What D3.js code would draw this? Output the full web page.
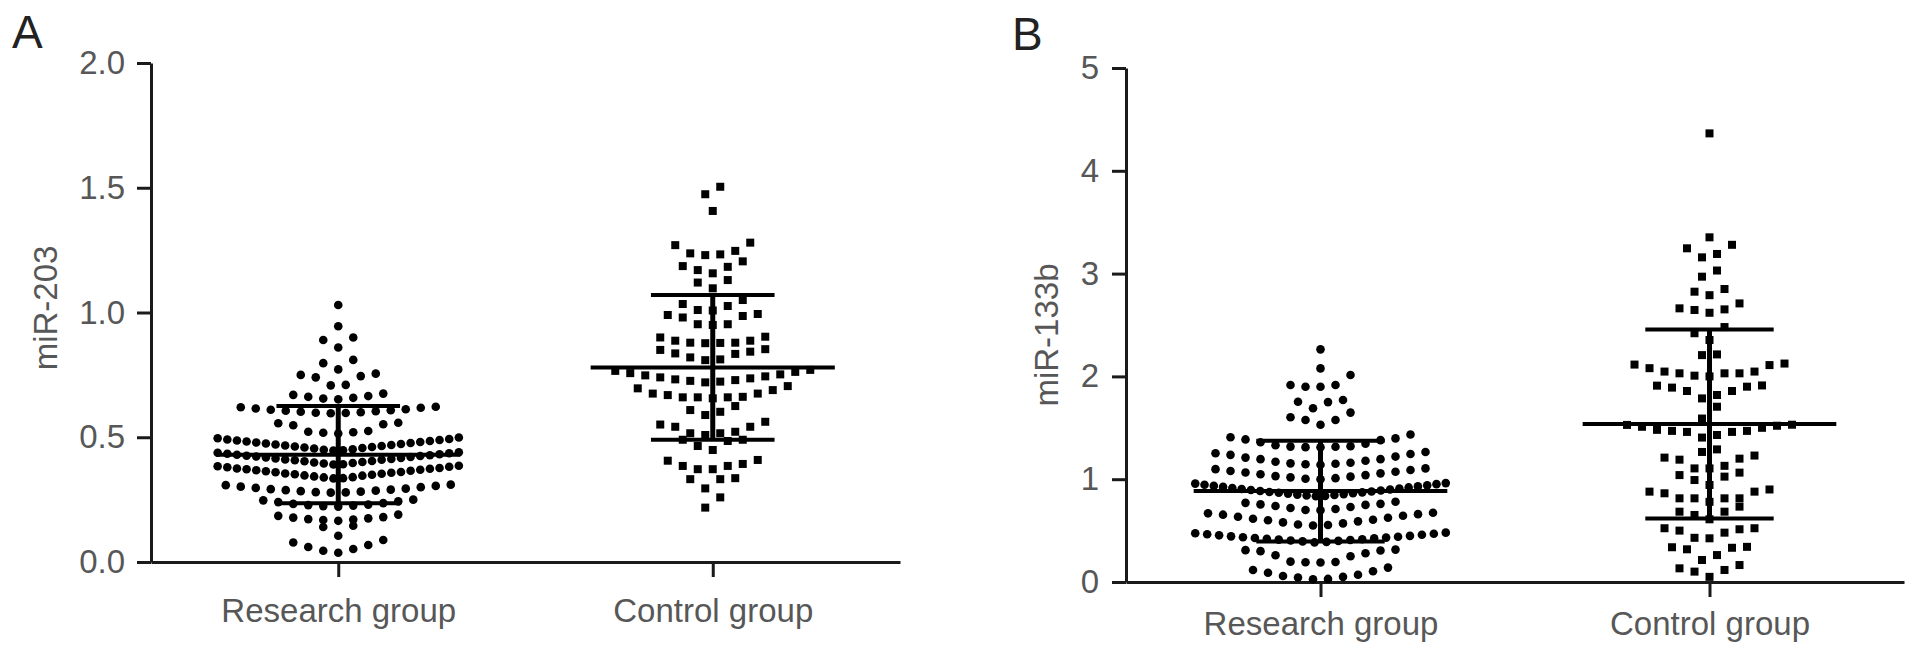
<!DOCTYPE html>
<html>
<head>
<meta charset="utf-8">
<script src="https://cdn.jsdelivr.net/npm/d3@7"></script>
<style>
  html, body { margin: 0; padding: 0; background: #ffffff; }
  svg { display: block; }
</style>
</head>
<body>
<svg id="chart" width="1913" height="654"></svg>
<script>
// ---------------- data ----------------
const groups = ["Research group", "Control group"];

const miR203Research = [
  0.037, 0.045, 0.052, 0.06, 0.068, 0.078, 0.088,
  0.105, 0.14, 0.145,
  0.165, 0.168, 0.17, 0.172, 0.175, 0.178, 0.18, 0.185, 0.19,
  0.222, 0.224, 0.226, 0.228, 0.23, 0.233, 0.236, 0.24, 0.243, 0.247, 0.25,
  0.278, 0.279, 0.28, 0.282, 0.284, 0.286, 0.288, 0.29, 0.292, 0.294, 0.297, 0.3, 0.302, 0.305, 0.308, 0.31,
  0.335, 0.336, 0.339, 0.34, 0.343, 0.346, 0.347, 0.35, 0.352, 0.354, 0.355, 0.358, 0.36, 0.361, 0.364, 0.366, 0.368, 0.37, 0.372, 0.374, 0.375, 0.377, 0.38, 0.382, 0.384, 0.386,
  0.391, 0.392, 0.395, 0.397, 0.399, 0.401, 0.404, 0.405, 0.408, 0.41, 0.411, 0.413, 0.415, 0.417, 0.419, 0.421, 0.423, 0.425, 0.426, 0.428, 0.43, 0.432, 0.434, 0.436, 0.438, 0.44,
  0.447, 0.448, 0.45, 0.452, 0.455, 0.457, 0.459, 0.461, 0.463, 0.465, 0.467, 0.469, 0.471, 0.473, 0.475, 0.477, 0.479, 0.481, 0.483, 0.485, 0.487, 0.489, 0.491, 0.493, 0.496, 0.499,
  0.515, 0.518, 0.52, 0.522, 0.525, 0.548, 0.552, 0.556, 0.558,
  0.596, 0.597, 0.598, 0.6, 0.602, 0.604, 0.606, 0.608, 0.61, 0.612, 0.615, 0.618, 0.62, 0.622,
  0.652, 0.655, 0.658, 0.662, 0.665, 0.67, 0.675,
  0.708, 0.71, 0.74, 0.745, 0.75, 0.755,
  0.772, 0.797, 0.81,
  0.86, 0.89, 0.90,
  0.945,
  1.03
];

const miR203Control = [
  0.218, 0.259,
  0.295, 0.332, 0.332, 0.336,
  0.372, 0.372, 0.385, 0.385, 0.393, 0.406, 0.409,
  0.449, 0.465, 0.485, 0.49, 0.49,
  0.509, 0.516, 0.516, 0.522, 0.542, 0.542, 0.551, 0.562,
  0.589, 0.602, 0.609, 0.625,
  0.656, 0.66, 0.66, 0.66, 0.662, 0.669, 0.675, 0.675, 0.689, 0.696, 0.705,
  0.72, 0.723, 0.726, 0.729, 0.732, 0.736, 0.74, 0.744, 0.748, 0.752, 0.757, 0.762, 0.766, 0.77,
  0.809, 0.812, 0.82, 0.834, 0.836, 0.843, 0.85, 0.853,
  0.877, 0.878, 0.879, 0.879, 0.887, 0.887, 0.90, 0.903,
  0.95, 0.953, 0.953, 0.98, 0.986, 0.99, 0.994,
  1.008, 1.01, 1.026, 1.034, 1.05,
  1.097, 1.12, 1.13,
  1.157, 1.17, 1.183, 1.186, 1.205,
  1.23, 1.233, 1.237, 1.247, 1.27, 1.28,
  1.407,
  1.474, 1.504
];

const miR133bResearch = [
  0.026, 0.03, 0.044, 0.05, 0.058, 0.07, 0.09, 0.105, 0.117, 0.14,
  0.19, 0.192, 0.195, 0.198, 0.25, 0.26, 0.28, 0.30, 0.306, 0.31, 0.315,
  0.385, 0.39, 0.395, 0.40, 0.404, 0.408, 0.412, 0.416, 0.42, 0.424, 0.428, 0.432, 0.436, 0.44, 0.444, 0.449, 0.454, 0.459, 0.464, 0.469, 0.474, 0.48,
  0.55, 0.555, 0.56, 0.57, 0.58, 0.59, 0.6, 0.605, 0.615, 0.625, 0.635, 0.645, 0.655, 0.66, 0.668, 0.674,
  0.698, 0.70, 0.71, 0.72, 0.73, 0.74, 0.75, 0.755, 0.76, 0.77, 0.78,
  0.835, 0.838, 0.842, 0.846, 0.85, 0.855, 0.86, 0.864, 0.868, 0.872, 0.876, 0.88, 0.885, 0.89, 0.895, 0.9, 0.905, 0.91, 0.915, 0.92, 0.925, 0.93, 0.935, 0.94, 0.946, 0.952, 0.957, 0.962,
  1.0, 1.004, 1.01, 1.018, 1.025, 1.03, 1.04, 1.048, 1.057, 1.065, 1.072, 1.08, 1.09, 1.098, 1.105,
  1.14, 1.145, 1.15, 1.154, 1.16, 1.17, 1.18, 1.195, 1.195, 1.21, 1.22, 1.237, 1.245, 1.253, 1.265,
  1.31, 1.312, 1.315, 1.317, 1.32, 1.33, 1.345, 1.36, 1.38, 1.387, 1.397, 1.408, 1.435,
  1.53, 1.576, 1.576, 1.602, 1.648,
  1.69, 1.75, 1.754, 1.77,
  1.9, 1.9, 1.917, 1.917, 2.014,
  2.078,
  2.263
];

const miR133bControl = [
  0.05, 0.101, 0.117, 0.133, 0.165,
  0.214, 0.262, 0.318, 0.333, 0.338, 0.342,
  0.425, 0.43, 0.48, 0.5, 0.513, 0.523, 0.523,
  0.61, 0.652, 0.684, 0.684, 0.733,
  0.78, 0.814, 0.814, 0.814, 0.814, 0.863, 0.879, 0.879, 0.9,
  0.944, 0.992, 1.025, 1.04, 1.064,
  1.105, 1.105, 1.13, 1.19, 1.2, 1.21, 1.23,
  1.265, 1.29,
  1.405, 1.43, 1.46, 1.46, 1.47, 1.47, 1.48, 1.5, 1.51, 1.52, 1.528, 1.53,
  1.59, 1.705,
  1.786, 1.819, 1.858, 1.858, 1.891, 1.9, 1.91, 1.912,
  2.0, 2.007, 2.03, 2.03, 2.03, 2.047, 2.047, 2.08, 2.11, 2.115, 2.125,
  2.207, 2.214,
  2.354, 2.42, 2.48,
  2.619, 2.646, 2.652, 2.662, 2.71,
  2.79, 2.824, 2.85,
  2.97, 3.03,
  3.158, 3.191, 3.246, 3.28,
  3.353,
  4.364
];

// mean and SD bars as drawn
const miR203Mean = [0.43, 0.78];
const miR203SD = [0.195, 0.29];
const miR133bMean = [0.885, 1.537];
const miR133bSD = [0.49, 0.92];

const miR203Ticks = [0, 0.5, 1.0, 1.5, 2.0];
const miR133bTicks = [0, 1, 2, 3, 4, 5];

// ---------------- layout ----------------
const panels = [
  {
    letter: "A", letterX: 12, letterY: 48,
    title: "miR-203", titleX: 57, titleY: 308,
    left: 151, right: 900, top: 63, bottom: 562,
    ticks: miR203Ticks, fmt: d3.format(".1f"),
    data: [miR203Research, miR203Control],
    mean: miR203Mean, sd: miR203SD,
    yPad: 12, xPad: 22
  },
  {
    letter: "B", letterX: 1012, letterY: 50,
    title: "miR-133b", titleX: 1058, titleY: 335,
    left: 1126, right: 1904, top: 68, bottom: 582,
    ticks: miR133bTicks, fmt: d3.format("d"),
    data: [miR133bResearch, miR133bControl],
    mean: miR133bMean, sd: miR133bSD,
    yPad: 13, xPad: 15
  }
];

const svg = d3.select("#chart");
const FONT = "'Liberation Sans', Arial, Helvetica, sans-serif";
const TEXT = "#575757";
const INK = "#1a1a1a";

// row-based scatter layout (like GraphPad column scatter)
function swarm(values, y, binPx, spacing, maxHalf) {
  const sorted = values.slice().sort((a, b) => a - b);
  const rows = [];
  let cur = null;
  for (const v of sorted) {
    if (!cur || (y(cur.start) - y(v)) >= binPx) {
      cur = { start: v, items: [] };
      rows.push(cur);
    }
    cur.items.push(v);
  }
  const out = [];
  for (const r of rows) {
    const n = r.items.length;
    const s = n > 1 ? Math.min(spacing, 2 * maxHalf / (n - 1)) : 0;
    r.items.forEach((v, i) => {
      let off;
      if (n % 2 === 1) {
        const k = Math.ceil(i / 2);
        off = i === 0 ? 0 : (i % 2 === 1 ? -k : k) * s;
      } else {
        const k = Math.floor(i / 2);
        off = (i % 2 === 0 ? -1 : 1) * (k + 0.5) * s;
      }
      out.push({ v, dx: off });
    });
  }
  return out;
}

panels.forEach(p => {
  const g = svg.append("g");
  const y = d3.scaleLinear()
    .domain([0, p.ticks[p.ticks.length - 1]])
    .range([p.bottom, p.top]);
  const x = d3.scalePoint()
    .domain(groups)
    .range([p.left, p.right])
    .padding(0.5);
  const step = x.step();

  // panel letter
  g.append("text")
    .attr("x", p.letterX).attr("y", p.letterY)
    .attr("font-family", FONT).attr("font-size", 46)
    .attr("fill", "#222").text(p.letter);

  // y axis title
  g.append("text")
    .attr("transform", `translate(${p.titleX},${p.titleY}) rotate(-90)`)
    .attr("text-anchor", "middle")
    .attr("font-family", FONT).attr("font-size", 33)
    .attr("fill", TEXT).text(p.title);

  // y axis
  const yAxis = g.append("g")
    .attr("transform", `translate(${p.left},0)`)
    .call(d3.axisLeft(y).tickValues(p.ticks).tickFormat(p.fmt)
      .tickSize(14).tickSizeOuter(0).tickPadding(p.yPad));
  // x axis
  const xAxis = g.append("g")
    .attr("transform", `translate(0,${p.bottom})`)
    .call(d3.axisBottom(x).tickSize(15).tickSizeOuter(0).tickPadding(p.xPad));

  [yAxis, xAxis].forEach(a => {
    a.select(".domain").attr("stroke", INK).attr("stroke-width", 3);
    a.selectAll(".tick line").attr("stroke", INK).attr("stroke-width", 3);
    a.selectAll(".tick text")
      .attr("font-family", FONT).attr("font-size", 33).attr("fill", TEXT);
  });

  // points
  const binPx = 13.7, spacing = 15, maxHalf = step * 0.322;
  p.data.forEach((vals, gi) => {
    const cx = x(groups[gi]);
    const pts = swarm(vals, y, binPx, spacing, maxHalf);
    if (gi === 0) {
      g.append("g").selectAll("circle").data(pts).join("circle")
        .attr("cx", d => cx + d.dx)
        .attr("cy", d => y(d.v))
        .attr("r", 4.3)
        .attr("fill", "#000");
    } else {
      const sz = 8;
      g.append("g").selectAll("rect").data(pts).join("rect")
        .attr("x", d => cx + d.dx - sz / 2)
        .attr("y", d => y(d.v) - sz / 2)
        .attr("width", sz).attr("height", sz)
        .attr("fill", "#000");
    }
  });

  // mean +/- SD bars
  groups.forEach((grp, gi) => {
    const cx = x(grp);
    const m = p.mean[gi], s = p.sd[gi];
    const halfMean = step * 0.326, halfCap = step * 0.165;
    const bars = g.append("g").attr("stroke", "#000");
    bars.append("line")
      .attr("stroke-width", 5)
      .attr("x1", cx).attr("x2", cx)
      .attr("y1", y(m - s)).attr("y2", y(m + s));
    bars.append("line")
      .attr("stroke-width", 4)
      .attr("x1", cx - halfMean).attr("x2", cx + halfMean)
      .attr("y1", y(m)).attr("y2", y(m));
    [m - s, m + s].forEach(v => {
      bars.append("line")
        .attr("stroke-width", 4)
        .attr("x1", cx - halfCap).attr("x2", cx + halfCap)
        .attr("y1", y(v)).attr("y2", y(v));
    });
  });
});
</script>
</body>
</html>
